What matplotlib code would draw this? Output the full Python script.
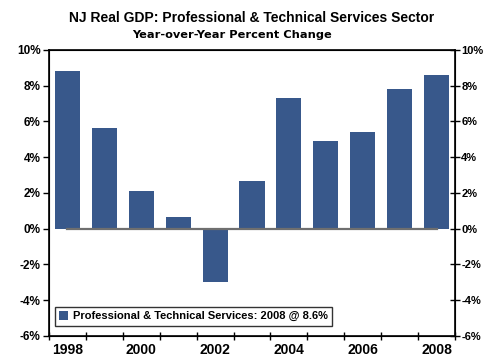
import matplotlib
matplotlib.use("Agg")
import matplotlib.pyplot as plt
import numpy as np

years = [1998, 1999, 2000, 2001, 2002, 2003, 2004, 2005, 2006, 2007, 2008]
growth = [8.8, 5.65, 2.1, 0.65, -3.0, 2.65, 7.3, 4.9, 5.4, 7.8, 8.6]
zero_line = [0] * len(years)
ytick_vals = [-6, -4, -2, 0, 2, 4, 6, 8, 10]
xtick_labels = ["1998", "2000", "2002", "2004", "2006", "2008"]
legend_label = "Professional & Technical Services: 2008 @ 8.6%"

plt.rcParams['font.family'] = ['Liberation Sans', 'DejaVu Sans']
plt.rcParams['font.weight'] = 'bold'

fig = plt.figure(figsize=(4.84, 3.56), dpi=100)
ax = fig.add_axes([0.1012, 0.0562, 0.8388, 0.8034])

x = np.arange(len(years))
bar_color = '#38588B'
ax.bar(x, growth, width=0.68, color=bar_color, label=legend_label, zorder=2)
ax.plot(x, zero_line, color='#6f6f6f', lw=1.6, zorder=3)

ax.set_xlim(-0.5, len(years) - 0.5)
ax.set_ylim(-6, 10)
ax.set_yticks(ytick_vals)
ax.set_yticklabels([f"{v}%" for v in ytick_vals], fontsize=8.5, fontweight='bold')

ax.set_xticks(np.arange(-0.5, len(years), 1.0))
ax.set_xticklabels([])
ax.set_xticks(x[::2], minor=True)
ax.set_xticklabels(xtick_labels, minor=True, fontsize=10, fontweight='bold')
ax.tick_params(axis='x', which='major', direction='inout', length=6, width=1)
ax.tick_params(axis='x', which='minor', length=0, pad=5)
ax.tick_params(axis='y', direction='out', length=4, width=1, pad=2)

for s in ax.spines.values():
    s.set_linewidth(1.2)
    s.set_color('black')

ax2 = ax.twinx()
ax2.set_ylim(-6, 10)
ax2.set_yticks(ytick_vals)
ax2.set_yticklabels([f"{v}%" for v in ytick_vals], fontsize=8, fontweight='bold')
ax2.tick_params(axis='y', direction='inout', length=7, width=1, pad=1)

leg = ax.legend(loc='lower left', bbox_to_anchor=(0.001, 0.016),
                frameon=True, fancybox=False, edgecolor='black',
                handlelength=0.8, handleheight=0.8, handletextpad=0.4,
                borderpad=0.4, prop={'weight': 'bold', 'size': 8})
leg.get_frame().set_linewidth(1.0)

fig.text(0.52, 0.950, "NJ Real GDP: Professional & Technical Services Sector",
         ha='center', va='center', fontsize=10, fontweight='bold')
fig.text(0.48, 0.903, "Year-over-Year Percent Change",
         ha='center', va='center', fontsize=8.2, fontweight='bold',
         family=['DejaVu Sans'])

fig.savefig("out.png", dpi=100)
